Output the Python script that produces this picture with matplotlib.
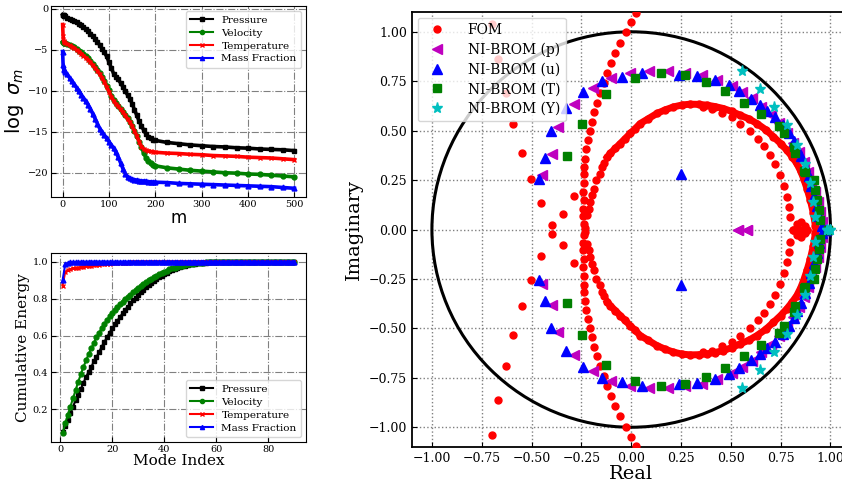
import matplotlib
matplotlib.use('Agg')
import matplotlib.pyplot as plt
from matplotlib.patches import Circle

plt.rcParams['font.family'] = ['DejaVu Serif']
plt.rcParams['mathtext.fontset'] = 'dejavusans'

# ---- singular value decay (top left) ----
sv_index = [0, 1, 2, 3] + list(range(5, 201, 5)) + list(range(225, 501, 25))
sv_pressure = [-0.7, -0.75, -0.8, -0.85,
               -0.9, -1.05, -1.2, -1.35, -1.5, -1.65, -1.8, -2.0, -2.2, -2.45,
               -2.7, -3.0, -3.3, -3.65, -4.0, -4.4, -4.85, -5.3, -5.8, -6.5,
               -7.2, -7.9, -8.25, -8.6, -9.05, -9.5, -10.0, -10.5, -10.95, -11.6,
               -12.3, -13.0, -13.7, -14.3, -14.8, -15.3, -15.6, -15.8, -15.95, -16.05,
               -16.3, -16.45, -16.6, -16.7, -16.8, -16.85, -16.95, -17.0, -17.1, -17.15, -17.2, -17.3]
sv_velocity = [-4.0, -4.05, -4.1, -4.15,
               -4.2, -4.3, -4.4, -4.55, -4.7, -4.9, -5.1, -5.3, -5.55, -5.8,
               -6.05, -6.35, -6.7, -7.05, -7.4, -7.8, -8.25, -8.75, -9.35, -9.95,
               -10.6, -11.1, -11.5, -11.85, -12.2, -12.55, -12.95, -13.35, -13.75, -14.25,
               -14.85, -15.5, -16.2, -16.9, -17.6, -18.2, -18.6, -18.85, -19.0, -19.15,
               -19.4, -19.55, -19.7, -19.8, -19.9, -20.0, -20.05, -20.15, -20.2, -20.3, -20.4, -20.5]
sv_temperature = [-1.9, -3.3, -3.9, -4.0,
                  -4.1, -4.3, -4.45, -4.6, -4.8, -5.0, -5.2, -5.45, -5.7, -5.95,
                  -6.2, -6.5, -6.85, -7.2, -7.55, -7.95, -8.4, -8.9, -9.5, -10.1,
                  -10.7, -11.2, -11.6, -11.9, -12.25, -12.6, -13.0, -13.4, -13.8, -14.3,
                  -14.9, -15.5, -16.2, -16.8, -17.1, -17.25, -17.35, -17.4, -17.45, -17.5,
                  -17.6, -17.65, -17.75, -17.8, -17.9, -17.95, -18.0, -18.1, -18.15, -18.2, -18.3, -18.4]
sv_massfrac = [-5.2, -6.8, -7.3, -7.5,
               -7.7, -8.0, -8.4, -8.8, -9.2, -9.6, -10.0, -10.45, -10.85, -11.25,
               -11.7, -12.2, -12.8, -13.4, -14.0, -14.6, -15.0, -15.4, -15.8, -16.2,
               -16.6, -17.0, -17.5, -18.1, -18.8, -19.5, -20.1, -20.5, -20.7, -20.8,
               -20.85, -20.9, -20.95, -21.0, -21.0, -21.05, -21.1, -21.1, -21.15, -21.15,
               -21.2, -21.3, -21.35, -21.4, -21.45, -21.5, -21.55, -21.6, -21.65, -21.7, -21.8, -21.9]

# ---- cumulative energy (bottom left) ----
mode_index = list(range(1, 91))
ce_pressure = [0.075, 0.11, 0.145, 0.18, 0.215, 0.25, 0.28, 0.31, 0.345, 0.375,
               0.405, 0.43, 0.46, 0.485, 0.51, 0.54, 0.565, 0.59, 0.615, 0.64,
               0.66, 0.68, 0.70, 0.72, 0.74, 0.755, 0.775, 0.79, 0.805, 0.82,
               0.835, 0.848, 0.86, 0.872, 0.884, 0.895, 0.905, 0.915, 0.924, 0.933,
               0.941, 0.948, 0.955, 0.961, 0.966, 0.971, 0.975, 0.979, 0.982, 0.985,
               0.987, 0.989, 0.991, 0.993, 0.994, 0.995, 0.996, 0.997, 0.998, 0.998,
               0.999, 0.999, 0.999, 0.999, 0.999] + [1.0] * 25
ce_velocity = [0.07, 0.125, 0.17, 0.215, 0.26, 0.305, 0.35, 0.39, 0.43, 0.465,
               0.50, 0.53, 0.56, 0.59, 0.615, 0.64, 0.662, 0.684, 0.703, 0.72,
               0.737, 0.753, 0.768, 0.782, 0.796, 0.809, 0.822, 0.834, 0.846, 0.858,
               0.869, 0.879, 0.889, 0.899, 0.908, 0.916, 0.924, 0.932, 0.939, 0.946,
               0.952, 0.958, 0.963, 0.968, 0.972, 0.976, 0.979, 0.982, 0.985, 0.987,
               0.989, 0.991, 0.993, 0.994, 0.995, 0.996, 0.997, 0.998, 0.998, 0.999,
               0.999, 0.999, 0.999, 0.999, 0.999] + [1.0] * 25
ce_temperature = [0.87, 0.945, 0.955, 0.96, 0.963, 0.966, 0.968, 0.971, 0.973, 0.975,
                  0.977, 0.979, 0.981, 0.982, 0.984, 0.985, 0.987, 0.988, 0.989, 0.99,
                  0.991, 0.992, 0.993, 0.994, 0.994, 0.995, 0.996, 0.996, 0.997, 0.997,
                  0.998, 0.998, 0.998, 0.999, 0.999, 0.999, 0.999, 0.999, 0.999, 0.999] + [1.0] * 50
ce_massfrac = [0.90, 0.985, 0.993, 0.996, 0.997, 0.998, 0.998, 0.999, 0.999, 0.999] + [1.0] * 80

# ---- eigenvalues (right), upper half-plane; conjugates added below ----
fom_ring_re = [-0.119, -0.105, -0.08, -0.055, -0.03, -0.005, 0.02, 0.045, 0.085, 0.129,
               0.17, 0.212, 0.255, 0.296, 0.34, 0.38, 0.42, 0.463, 0.505, 0.547,
               0.59, 0.631, 0.675, 0.714, 0.75, 0.781, 0.808, 0.831, 0.85, 0.865,
               0.882, 0.899, 0.914, 0.924]
fom_ring_im = [0.367, 0.385, 0.41, 0.435, 0.46, 0.486, 0.51, 0.536, 0.56, 0.587,
               0.605, 0.62, 0.63, 0.634, 0.633, 0.629, 0.622, 0.612, 0.597, 0.578,
               0.56, 0.536, 0.505, 0.469, 0.435, 0.401, 0.367, 0.334, 0.296, 0.258,
               0.207, 0.148, 0.082, 0.02]
fom_re = [-0.23, -0.222, -0.214, -0.206, -0.197, -0.189, -0.176, -0.159, -0.147, -0.136,
          # column and outer branch
          -0.239, -0.243, -0.243, -0.239, -0.243, -0.239, -0.236, -0.236, -0.231, -0.226,
          -0.219, -0.209, -0.197, -0.186, -0.172, -0.159, -0.136, -0.122, -0.100, -0.080,
          -0.055, -0.027, -0.002, 0.025, 0.05,
          # far left branch
          -0.398, -0.452, -0.502, -0.549, -0.594, -0.63, -0.67, -0.70, -0.343, -0.286,
          # inner dotted arc
          0.36, 0.405, 0.455, 0.505, 0.547, 0.594, 0.634, 0.668, 0.698, 0.723,
          0.748, 0.765, 0.782, 0.79, 0.797,
          # cluster near the real axis
          0.81, 0.83, 0.85, 0.87, 0.84, 0.86, 0.88, 0.97]
fom_im = [0.01, 0.072, 0.106, 0.14, 0.174, 0.207, 0.25, 0.283, 0.314, 0.337,
          0.03, 0.067, 0.106, 0.148, 0.19, 0.233, 0.283, 0.317, 0.359, 0.405,
          0.452, 0.499, 0.545, 0.592, 0.641, 0.688, 0.742, 0.793, 0.843, 0.894,
          0.944, 0.997, 1.048, 1.096, 1.14,
          0.022, 0.135, 0.255, 0.388, 0.533, 0.69, 0.86, 1.04, 0.077, 0.169,
          0.62, 0.612, 0.59, 0.567, 0.536, 0.499, 0.46, 0.421, 0.376, 0.33,
          0.275, 0.222, 0.165, 0.114, 0.064,
          0.0, 0.03, 0.04, 0.02, 0.0, 0.0, 0.0, 0.0]

brom_p_re = [-0.448, -0.398, -0.365, -0.286, -0.194, -0.102, -0.005, 0.09, 0.185, 0.27,
             0.355, 0.43, 0.505, 0.555, 0.605, 0.65, 0.70, 0.74, 0.78, 0.81,
             0.84, 0.865, 0.885, 0.90, 0.92, 0.935, 0.945, 0.955, 0.537, 0.58, 0.975]
brom_p_im = [0.275, 0.381, 0.519, 0.633, 0.714, 0.764, 0.793, 0.80, 0.80, 0.79,
             0.78, 0.755, 0.725, 0.695, 0.665, 0.62, 0.58, 0.54, 0.49, 0.44,
             0.39, 0.34, 0.29, 0.24, 0.19, 0.14, 0.09, 0.04, 0.0, 0.0, 0.0]
brom_u_re = [-0.465, -0.432, -0.402, -0.326, -0.243, -0.147, -0.047, 0.055, 0.24, 0.33,
             0.42, 0.49, 0.54, 0.60, 0.645, 0.68, 0.72, 0.76, 0.79, 0.815,
             0.83, 0.85, 0.87, 0.89, 0.90, 0.915, 0.93, 0.94, 0.955, 0.25, 0.975]
brom_u_im = [0.255, 0.364, 0.497, 0.615, 0.696, 0.75, 0.772, 0.79, 0.78, 0.775,
             0.755, 0.73, 0.70, 0.66, 0.63, 0.60, 0.57, 0.53, 0.49, 0.45,
             0.41, 0.37, 0.32, 0.27, 0.22, 0.17, 0.12, 0.07, 0.02, 0.28, 0.0]
brom_t_re = [-0.32, -0.247, -0.125, 0.017, 0.15, 0.27, 0.375, 0.47, 0.564, 0.651,
             0.74, 0.765, 0.818, 0.823, 0.868, 0.873, 0.915, 0.924, 0.932, 0.94,
             0.945, 0.99]
brom_t_im = [0.371, 0.533, 0.683, 0.764, 0.79, 0.78, 0.745, 0.70, 0.641, 0.583,
             0.524, 0.489, 0.418, 0.385, 0.297, 0.29, 0.25, 0.20, 0.148, 0.098,
             0.047, 0.0]
brom_y_re = [0.555, 0.645, 0.715, 0.78, 0.83, 0.87, 0.895, 0.912, 0.92, 0.98, 1.0]
brom_y_im = [0.80, 0.71, 0.62, 0.53, 0.43, 0.33, 0.233, 0.14, 0.064, 0.0, 0.0]


def with_conjugates(re, im):
    return list(re) + list(re), list(im) + [-v for v in im]


fig = plt.figure(figsize=(8.42, 4.87), dpi=100)

# ---------------- top left ----------------
ax1 = fig.add_axes([0.0606, 0.5955, 0.3029, 0.3922])
ax1.plot(sv_index, sv_pressure, 'k-s', ms=3.5, lw=2.6, label='Pressure')
ax1.plot(sv_index, sv_velocity, 'g-o', ms=3.5, lw=2.6, label='Velocity')
ax1.plot(sv_index, sv_temperature, 'r-x', ms=3.5, lw=2.6, label='Temperature')
ax1.plot(sv_index, sv_massfrac, 'b-^', ms=3.5, lw=2.6, label='Mass Fraction')
ax1.set_xlabel('m', family='DejaVu Sans', fontsize=12, labelpad=0)
ax1.set_ylabel(r'$\log\ \sigma_m$', fontsize=14, labelpad=1)
ax1.set_xticks([0, 100, 200, 300, 400, 500])
ax1.set_yticks([0, -5, -10, -15, -20])
ax1.tick_params(direction='in', labelsize=7, pad=2)
ax1.grid(True, linestyle='-.', color='gray', lw=0.8)
leg1 = ax1.legend(loc='upper right', fontsize=7.5, handlelength=2.2, labelspacing=0.35)
for h in leg1.get_lines():
    h.set_linewidth(1.5)
    h.set_markersize(3)

# ---------------- bottom left ----------------
ax2 = fig.add_axes([0.0606, 0.0924, 0.3029, 0.388])
ax2.plot(mode_index, ce_pressure, 'k-s', ms=3.5, lw=1.5, label='Pressure')
ax2.plot(mode_index, ce_velocity, 'g-o', ms=3.5, lw=1.5, label='Velocity')
ax2.plot(mode_index, ce_temperature, 'r-x', ms=3.5, lw=1.5, label='Temperature')
ax2.plot(mode_index, ce_massfrac, 'b-^', ms=3.5, lw=1.5, label='Mass Fraction')
ax2.set_xlabel('Mode Index', fontsize=11, labelpad=0)
ax2.set_ylabel('Cumulative Energy', fontsize=11, labelpad=2)
ax2.set_xticks([0, 20, 40, 60, 80])
ax2.set_yticks([0.2, 0.4, 0.6, 0.8, 1.0])
ax2.tick_params(direction='in', labelsize=7, pad=2)
ax2.grid(True, linestyle='-.', color='gray', lw=0.8)
leg2 = ax2.legend(loc='lower right', fontsize=7.5, handlelength=2.2, labelspacing=0.35)
for h in leg2.get_lines():
    h.set_markersize(3)

# ---------------- right: eigenvalues ----------------
ax3 = fig.add_axes([0.4893, 0.0821, 0.5207, 0.8932])
ax3.add_patch(Circle((0, 0), 1.0, fill=False, color='black', lw=2.2, zorder=2))

ring_re, ring_im = with_conjugates(fom_ring_re, fom_ring_im)
half = len(fom_ring_re)
ax3.plot(ring_re[:half], ring_im[:half], color='red', lw=5, zorder=3)
ax3.plot(ring_re[half:], ring_im[half:], color='red', lw=5, zorder=3)
ax3.plot(ring_re, ring_im, 'o', color='red', ms=5, zorder=3)
big_re, big_im = with_conjugates(fom_re, fom_im)
ax3.plot(big_re, big_im, 'o', color='red', ms=5, zorder=3, label='FOM')

for re, im, mk, col, ms, lab in [
        (brom_p_re, brom_p_im, '<', 'm', 7, 'NI-BROM (p)'),
        (brom_u_re, brom_u_im, '^', 'b', 7, 'NI-BROM (u)'),
        (brom_t_re, brom_t_im, 's', 'g', 6, 'NI-BROM (T)'),
        (brom_y_re, brom_y_im, '*', 'c', 8, 'NI-BROM (Y)')]:
    xr, xi = with_conjugates(re, im)
    ax3.plot(xr, xi, mk, color=col, ms=ms, ls='none', zorder=4, label=lab)

ax3.set_xlim(-1.1, 1.1)
ax3.set_ylim(-1.1, 1.1)
ticks = [-1.0, -0.75, -0.5, -0.25, 0.0, 0.25, 0.5, 0.75, 1.0]
ax3.set_xticks(ticks)
ax3.set_yticks(ticks)
ax3.tick_params(direction='in', labelsize=9)
ax3.grid(True, linestyle=':', color='gray', lw=1.0)
ax3.set_xlabel('Real', fontsize=14, labelpad=0)
ax3.set_ylabel('Imaginary', fontsize=14)
for sp in ax3.spines.values():
    sp.set_linewidth(1.3)
ax3.legend(loc='upper left', fontsize=10, labelspacing=0.4, handletextpad=1.2,
           borderaxespad=0.4)

fig.savefig('out.png', dpi=100)
